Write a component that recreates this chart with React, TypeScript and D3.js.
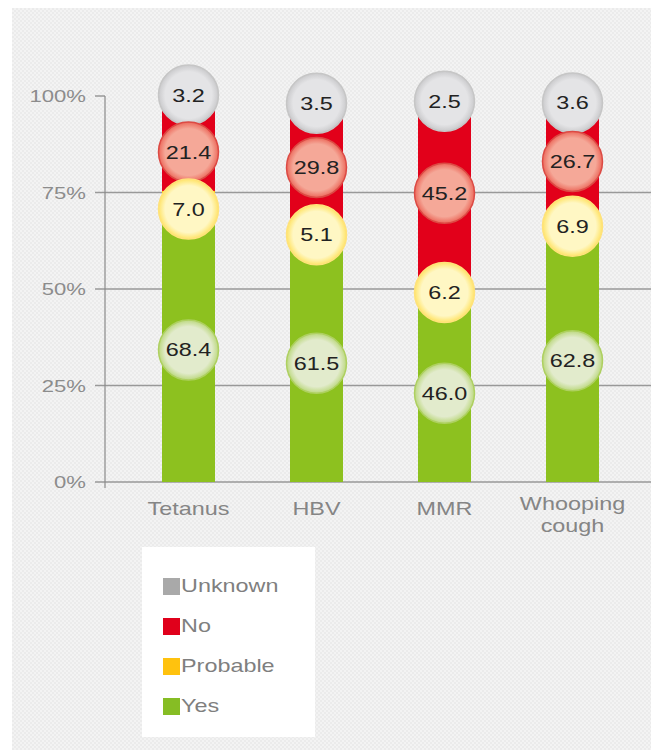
import React from "react";
import * as d3 from "d3";

const categories = ["Tetanus", "HBV", "MMR", "Whooping cough"];
const yesValues = [68.4, 61.5, 46.0, 62.8];
const probableValues = [7.0, 5.1, 6.2, 6.9];
const noValues = [21.4, 29.8, 45.2, 26.7];
const unknownValues = [3.2, 3.5, 2.5, 3.6];
const seriesKeys = ["Yes", "Probable", "No", "Unknown"];
const legendKeys = ["Unknown", "No", "Probable", "Yes"];
const yTicks = [0, 25, 50, 75, 100];

const W = 651;
const H = 750;
const STRETCH = 1.3;
const FONT = "'Liberation Sans', Arial, Helvetica, sans-serif";

const barColor: Record<string, string> = {
  Yes: "#8dc11f",
  Probable: "#ffc800",
  No: "#e2001a",
  Unknown: "#bdbdbd",
};
const legendColor: Record<string, string> = {
  Yes: "#86bd24",
  Probable: "#ffc20e",
  No: "#e0001b",
  Unknown: "#a9a9a9",
};
const circleInner: Record<string, string> = {
  Yes: "#e2ebcc",
  Probable: "#fff7c4",
  No: "#f5a898",
  Unknown: "#e4e4e6",
};
const circleEdge: Record<string, string> = {
  Yes: "#bcd880",
  Probable: "#ffe46a",
  No: "#ec6a5c",
  Unknown: "#cacacc",
};
const circleStroke: Record<string, string> = {
  Yes: "#aed060",
  Probable: "#ffe27a",
  No: "#dc4a44",
  Unknown: "#c6c6c6",
};

const rows = categories.map((c, i) => ({
  category: c,
  Yes: yesValues[i],
  Probable: probableValues[i],
  No: noValues[i],
  Unknown: unknownValues[i],
}));

export default function App() {
  const y = d3.scaleLinear().domain([0, 100]).range([482, 96]);
  const x = d3.scalePoint<string>().domain(categories).range([124.5, 636.5]).padding(0.5);
  const barW = 53;
  const R = 30;
  const minGap = 57;

  const stacked = d3.stack<any>().keys(seriesKeys)(rows);

  // circle positions: segment midpoints with simple collision relaxation
  const circles = categories.map((c, ci) => {
    const items = stacked.map((s) => ({
      key: s.key,
      value: (rows[ci] as any)[s.key] as number,
      cy: y((s[ci][0] + s[ci][1]) / 2),
    }));
    items.sort((a, b) => a.cy - b.cy);
    for (let iter = 0; iter < 100; iter++) {
      for (let k = 0; k < items.length - 1; k++) {
        const gap = items[k + 1].cy - items[k].cy;
        if (gap < minGap) {
          const push = (minGap - gap) / 2;
          items[k].cy -= push;
          items[k + 1].cy += push;
        }
      }
    }
    return { category: c, cx: x(c)!, items };
  });

  const axisX = 105;
  const gridRight = W;

  return (
    <svg
      width={W}
      height={H}
      style={{ position: "absolute", left: 0, top: 0, background: "#fff" }}
      fontFamily={FONT}
    >
      <defs>
        <pattern id="dither" width="4" height="4" patternUnits="userSpaceOnUse">
          <rect width="4" height="4" fill="#f3f3f3" />
          <rect width="2" height="2" fill="#ebebeb" />
          <rect x="2" y="2" width="2" height="2" fill="#ebebeb" />
        </pattern>
        {seriesKeys.map((k) => (
          <radialGradient id={`g-${k}`} key={k} cx="50%" cy="50%" r="50%">
            <stop offset="0%" stopColor={circleInner[k]} />
            <stop offset="78%" stopColor={circleInner[k]} />
            <stop offset="100%" stopColor={circleEdge[k]} />
          </radialGradient>
        ))}
      </defs>
      <rect x={0} y={0} width={W} height={H} fill="#fff" />
      <rect x={12} y={8} width={W - 12} height={H - 8} fill="url(#dither)" />

      {/* gridlines and ticks */}
      {yTicks.map((t) => (
        <line
          key={`g${t}`}
          x1={95}
          x2={t === 100 ? axisX : gridRight}
          y1={y(t)}
          y2={y(t)}
          stroke="#999"
          strokeWidth={1.5}
        />
      ))}
      <line x1={axisX} x2={axisX} y1={y(100)} y2={y(0) + 6} stroke="#8a8a8a" strokeWidth={1.2} />

      {yTicks.map((t) => (
        <text
          key={`l${t}`}
          transform={`translate(86,${y(t)}) scale(${STRETCH},1)`}
          textAnchor="end"
          dy="0.36em"
          fontSize={17}
          fill="#8c8c8c"
        >
          {t}%
        </text>
      ))}

      {/* bars */}
      {stacked.map((s) => (
        <g key={s.key}>
          {s.map((d, i) => (
            <rect
              key={i}
              x={x(categories[i])! - barW / 2}
              y={y(d[1])}
              width={barW}
              height={y(d[0]) - y(d[1])}
              fill={barColor[s.key]}
            />
          ))}
        </g>
      ))}

      {/* circles */}
      {circles.map((c) =>
        c.items.map((it) => (
          <g key={`${c.category}-${it.key}`}>
            <circle
              cx={c.cx}
              cy={it.cy}
              r={R}
              fill={`url(#g-${it.key})`}
              stroke={circleStroke[it.key]}
              strokeWidth={1.5}
            />
            <text
              transform={`translate(${c.cx},${it.cy}) scale(${STRETCH},1)`}
              textAnchor="middle"
              dy="0.36em"
              fontSize={18}
              fill="#222"
            >
              {it.value.toFixed(1)}
            </text>
          </g>
        ))
      )}

      {/* category labels */}
      {categories.map((c) => {
        const words = c.split(" ");
        const lines = words.length > 1 ? words : [c];
        return (
          <text
            key={c}
            transform={`translate(${x(c)},${lines.length > 1 ? 510 : 515}) scale(${STRETCH},1)`}
            textAnchor="middle"
            fontSize={18}
            fill="#858585"
          >
            {lines.map((l, i) => (
              <tspan key={i} x={0} dy={i === 0 ? 0 : 22}>
                {l}
              </tspan>
            ))}
          </text>
        );
      })}

      {/* legend */}
      <rect x={142} y={547} width={173} height={190} fill="#fff" />
      {legendKeys.map((k, i) => {
        const cy = 586 + i * 40;
        return (
          <g key={k}>
            <rect x={163} y={cy - 8} width={17} height={17} fill={legendColor[k]} />
            <text
              transform={`translate(181,${cy}) scale(${STRETCH},1)`}
              dy="0.36em"
              fontSize={18}
              fill="#7f7f7f"
            >
              {k}
            </text>
          </g>
        );
      })}
    </svg>
  );
}
